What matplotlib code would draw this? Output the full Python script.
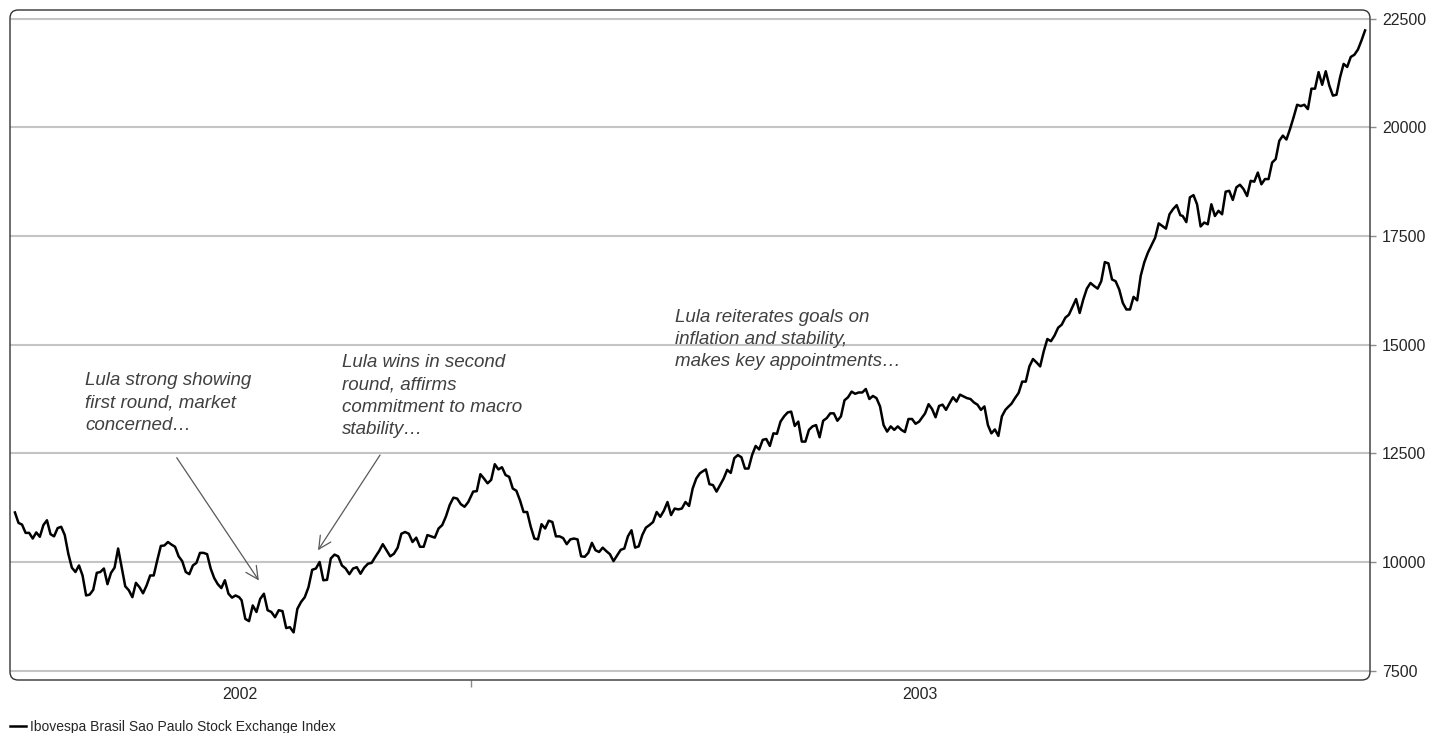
import datetime
import numpy as np
import pandas as pd
import matplotlib
matplotlib.use("Agg")
import matplotlib.pyplot as plt
import matplotlib.dates as mdates
from matplotlib.patches import FancyBboxPatch

plt.rcParams['font.family'] = ['Liberation Sans', 'DejaVu Sans']

#---data: Ibovespa daily closes, in segments---#
seg_dates = [
    ("2002-06-30", "2002-09-29"),
    ("2002-09-30", "2002-12-31"),
    ("2003-01-02", "2003-04-04"),
    ("2003-04-05", "2003-07-02"),
    ("2003-07-03", "2003-08-06"),
    ("2003-08-07", "2003-10-16"),
    ("2003-10-17", "2003-12-30"),
]

vals_jul_sep02 = [11140, 10900, 10860, 10670, 10670, 10540, 10680, 10580, 10850, 10960,
                  10640, 10590, 10780, 10810, 10620, 10190, 9870, 9770, 9920, 9690,
                  9230, 9250, 9360, 9750, 9770, 9850, 9490, 9750, 9870, 10310,
                  9870, 9440, 9350, 9190, 9520, 9420, 9280, 9460, 9690, 9690,
                  10040, 10370, 10380, 10460, 10400, 10350, 10130, 10020, 9770, 9720,
                  9920, 9980, 10210, 10210, 10180, 9850, 9630, 9490, 9400, 9580,
                  9270, 9180, 9230, 9190]
vals_oct_dec02 = [9120, 8690, 8640, 9000, 8850, 9150, 9270, 8890, 8850, 8730,
                  8890, 8870, 8480, 8500, 8380, 8920, 9080, 9190, 9420, 9820,
                  9850, 10000, 9580, 9590, 10080, 10170, 10130, 9920, 9850, 9720,
                  9850, 9880, 9730, 9870, 9960, 9980, 10120, 10250, 10410, 10270,
                  10130, 10190, 10330, 10650, 10690, 10650, 10460, 10560, 10350, 10350,
                  10620, 10590, 10560, 10770, 10850, 11050, 11310, 11480, 11460, 11330,
                  11270, 11380]
vals_jan_apr03 = [11620, 11630, 12020, 11920, 11810, 11890, 12250, 12130, 12180, 12000,
                  11960, 11690, 11640, 11420, 11150, 11150, 10810, 10540, 10520, 10870,
                  10770, 10950, 10920, 10590, 10590, 10550, 10410, 10520, 10540, 10520,
                  10130, 10120, 10210, 10440, 10270, 10230, 10330, 10250, 10180, 10020,
                  10150, 10280, 10310, 10590, 10730, 10330, 10360, 10620, 10790, 10850,
                  10920, 11150, 11040, 11180, 11380, 11080, 11230, 11210, 11230, 11380,
                  11290, 11690, 11920, 12040]
vals_apr_jul03 = [12080, 12130, 11790, 11770, 11620, 11770, 11920, 12120, 12050, 12390,
                  12460, 12410, 12150, 12150, 12460, 12670, 12590, 12810, 12830, 12670,
                  12960, 12950, 13230, 13350, 13440, 13460, 13130, 13230, 12770, 12770,
                  13040, 13120, 13150, 12870, 13250, 13310, 13420, 13420, 13250, 13350,
                  13720, 13790, 13920, 13870, 13900, 13900, 13980, 13750, 13820, 13770,
                  13580, 13150, 13000, 13120, 13040, 13120, 13040, 12990, 13290, 13290,
                  13180, 13230]
vals_jul_aug03 = [13310, 13420, 13630, 13520, 13330, 13590, 13620, 13500, 13650, 13790,
                  13690, 13850, 13810, 13770, 13750, 13670, 13620, 13500, 13580, 13150,
                  12960, 13050, 12900, 13350, 13500]
vals_aug_oct03 = [13560, 13640, 13770, 13890, 14150, 14150, 14500, 14670, 14590, 14500,
                  14850, 15130, 15080, 15210, 15390, 15460, 15620, 15690, 15870, 16050,
                  15730, 16040, 16290, 16420, 16350, 16290, 16460, 16900, 16870, 16500,
                  16460, 16270, 15960, 15810, 15810, 16100, 16020, 16590, 16900, 17120,
                  17290, 17460, 17790, 17730, 17670, 18000, 18120, 18210, 17980]
vals_oct_dec03 = [17960, 17820, 18390, 18440, 18230, 17720, 17810, 17770, 18230, 17960,
                  18080, 18000, 18520, 18540, 18330, 18620, 18680, 18580, 18420, 18770,
                  18750, 18960, 18690, 18810, 18810, 19190, 19270, 19690, 19810, 19720,
                  19960, 20230, 20520, 20490, 20520, 20420, 20890, 20890, 21270, 20980,
                  21290, 20960, 20730, 20750, 21150, 21460, 21390, 21620, 21670, 21790,
                  22000, 22230]

seg_vals = [vals_jul_sep02, vals_oct_dec02, vals_jan_apr03, vals_apr_jul03,
            vals_jul_aug03, vals_aug_oct03, vals_oct_dec03]

y_ticks = [7500, 10000, 12500, 15000, 17500, 20000, 22500]
year_labels = ["2002", "2003"]
series_label = "Ibovespa Brasil Sao Paulo Stock Exchange Index"

notes = [
    "Lula strong showing\nfirst round, market\nconcerned\u2026",
    "Lula wins in second\nround, affirms\ncommitment to macro\nstability\u2026",
    "Lula reiterates goals on\ninflation and stability,\nmakes key appointments\u2026",
]

#-------------------------------------------------------------------#
dates = []
values = []
for (d0, d1), v in zip(seg_dates, seg_vals):
    dates.extend(pd.date_range(d0, d1, periods=len(v)))
    values.extend(v)

x_start = datetime.datetime(2002, 6, 28)
x_end = datetime.datetime(2004, 1, 1)
year_cut = datetime.datetime(2003, 1, 1)

fig = plt.figure(figsize=(14.31, 7.33), dpi=100)
ax = fig.add_axes([10/1431, 53/733, 1360/1431, 670/733])

ax.plot(dates, values, color='black', lw=1.8, zorder=3, label=series_label)

ax.set_xlim(x_start, x_end)
ax.set_ylim(7285, 22700)

# grid + ticks
ax.set_yticks(y_ticks)
ax.yaxis.grid(True, color='#c4c4c4', lw=1.5, zorder=1)
ax.set_axisbelow(True)
ax.yaxis.tick_right()
ax.tick_params(axis='y', length=4.5, width=1, color='#8c8c8c', pad=4,
               labelsize=11.5, labelcolor='#262626')

ax.set_xticks([year_cut])
ax.set_xticklabels([''])
mid02 = x_start + (year_cut - x_start) / 2
mid03 = year_cut + (x_end - year_cut) / 2
ax.set_xticks([mid02, mid03], minor=True)
ax.set_xticklabels(year_labels, minor=True)
ax.tick_params(axis='x', which='major', length=5, width=1, color='#8c8c8c')
ax.tick_params(axis='x', which='minor', length=0, pad=5, labelsize=11.5, labelcolor='#262626')

# rounded frame instead of spines
for s in ax.spines.values():
    s.set_visible(False)
frame = FancyBboxPatch((0, 0), 1, 1, boxstyle='round,pad=0,rounding_size=0.006',
                       mutation_aspect=2.03, transform=ax.transAxes, fill=False,
                       ec='#333333', lw=1.0, clip_on=False, zorder=4)
ax.add_patch(frame)

# annotations
txt_kw = dict(fontsize=13.5, style='italic', color='#404040', va='top', ha='left',
              transform=ax.transAxes, linespacing=1.4)
ax.text(0.0551, 0.459, notes[0], **txt_kw)
ax.text(0.2441, 0.486, notes[1], **txt_kw)
ax.text(0.4890, 0.554, notes[2], **txt_kw)

arr_kw = dict(arrowstyle='->,head_length=0.9,head_width=0.45', color='#595959', lw=0.9,
              shrinkA=0, shrinkB=0)
ax.annotate('', xy=(datetime.datetime(2002, 10, 7), 9575), xycoords='data',
            xytext=(0.1226, 0.3318), textcoords='axes fraction', arrowprops=arr_kw)
ax.annotate('', xy=(datetime.datetime(2002, 10, 31), 10270), xycoords='data',
            xytext=(0.2721, 0.3358), textcoords='axes fraction', arrowprops=arr_kw)

# legend under the plot
fig.legend(loc='center left', bbox_to_anchor=(10/1431, 6/733), frameon=False,
           fontsize=10, handlelength=1.15, handletextpad=0.3, borderpad=0,
           borderaxespad=0, labelcolor='#262626')

fig.savefig("out.png", dpi=100)
